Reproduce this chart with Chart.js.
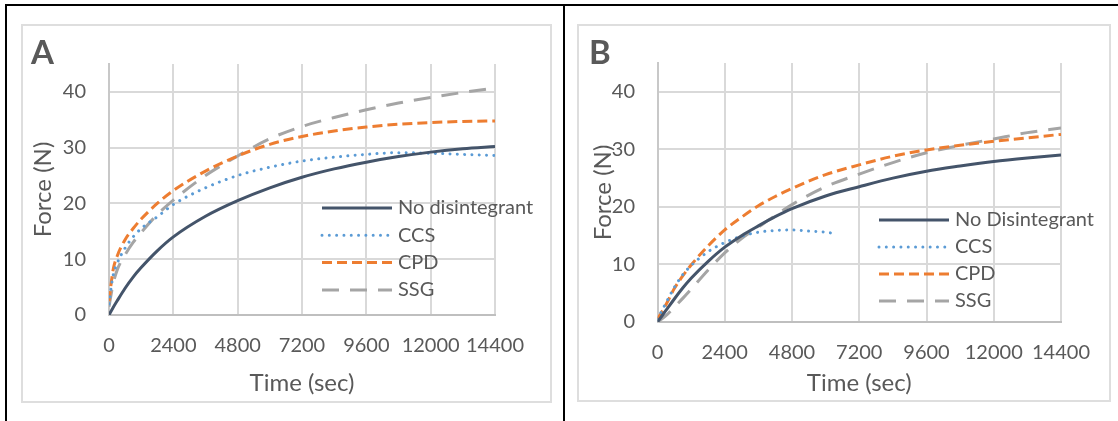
<!DOCTYPE html>
<html>
<head>
<meta charset="utf-8">
<script src="https://cdn.jsdelivr.net/npm/chart.js@4.4.1/dist/chart.umd.min.js"></script>
<style>
  html, body { margin: 0; padding: 0; background: #fff; }
  body { width: 1118px; height: 421px; position: relative; overflow: hidden; }
  .rule { position: absolute; background: #000; }
  .box { position: absolute; border: 2px solid #dedede; box-sizing: border-box; }
  canvas { position: absolute; }
</style>
</head>
<body>
<div class="rule" style="left:5px;top:4px;width:1113px;height:2px"></div>
<div class="rule" style="left:5px;top:4px;width:2px;height:417px"></div>
<div class="rule" style="left:563px;top:4px;width:2px;height:417px"></div>
<div class="box" style="left:21px;top:24px;width:531px;height:379px"></div>
<div class="box" style="left:577px;top:24px;width:534px;height:378px"></div>
<canvas id="chartA" width="528" height="376" style="left:22px;top:25px"></canvas>
<canvas id="chartB" width="530" height="375" style="left:579px;top:25px"></canvas>
<script>
/*
    DATA
*/
const SERIES_NAMES_A = ['No disintegrant', 'CCS', 'CPD', 'SSG'];
const SERIES_NAMES_B = ['No Disintegrant', 'CCS', 'CPD', 'SSG'];
const X_TICKS = [0, 2400, 4800, 7200, 9600, 12000, 14400];
const Y_TICKS = [0, 10, 20, 30, 40];

// panel A (time in sec, force in N)
const timeA = [0, 150, 300, 600, 900, 1200, 1800, 2400, 3600, 4800, 6000, 7200, 8400, 9600, 10800, 12000, 13200, 14400];
const noDisA = [0, 1.3, 2.5, 4.8, 6.8, 8.5, 11.5, 14.0, 17.7, 20.5, 22.8, 24.7, 26.2, 27.4, 28.4, 29.2, 29.8, 30.2];
const ccsA = [2.0, 7.0, 9.2, 12.0, 14.0, 15.5, 17.6, 19.8, 22.8, 25.0, 26.5, 27.6, 28.3, 28.8, 29.1, 29.0, 28.8, 28.6];
const cpdA = [2.5, 8.0, 10.5, 13.5, 15.5, 17.2, 20.0, 22.3, 25.8, 28.5, 30.6, 32.0, 33.0, 33.7, 34.2, 34.5, 34.7, 34.8];
const ssgA = [1.5, 5.5, 8.0, 10.8, 13.0, 14.8, 18.0, 20.6, 25.0, 28.5, 31.6, 33.8, 35.4, 36.8, 38.0, 39.0, 39.9, 40.7];

// panel B
const timeB = [0, 300, 600, 900, 1200, 1800, 2400, 3000, 3600, 4200, 4800, 6000, 7200, 8400, 9600, 10800, 12000, 13200, 14400];
const noDisB = [0, 2.0, 4.0, 5.9, 7.6, 10.5, 13.0, 15.0, 16.7, 18.3, 19.7, 21.9, 23.5, 25.0, 26.2, 27.1, 27.9, 28.5, 29.0];
const cpdB = [0.5, 3.0, 5.8, 8.0, 9.9, 13.2, 16.0, 18.2, 20.2, 21.8, 23.2, 25.6, 27.3, 28.8, 29.9, 30.7, 31.4, 32.0, 32.6];
const ssgB = [0, 1.1, 2.6, 4.1, 5.7, 9.0, 12.0, 14.5, 16.5, 18.5, 20.4, 23.5, 25.7, 27.7, 29.4, 30.7, 31.8, 32.9, 33.7];
const ccsTimeB = [0, 300, 600, 900, 1200, 1800, 2400, 3000, 3600, 4200, 4800, 5400, 6000, 6400];
const ccsB = [0.5, 3.3, 6.0, 8.2, 9.8, 12.2, 13.8, 14.9, 15.6, 15.9, 16.0, 15.8, 15.6, 15.3];

/*
    STYLE
*/
const TEXT = '#595959';
const FONT = 'Lato';
const STYLES = [
  { borderColor: '#44546a', borderWidth: 3, borderDash: [], borderCapStyle: 'butt' },
  { borderColor: '#5b9bd5', borderWidth: 3, borderDash: [0.01, 7.3], borderCapStyle: 'round' },
  { borderColor: '#ed7d31', borderWidth: 3, borderDash: [10, 5], borderCapStyle: 'butt' },
  { borderColor: '#a5a5a5', borderWidth: 3, borderDash: [17, 11], borderCapStyle: 'butt' }
];

Chart.defaults.font.family = FONT;
Chart.defaults.color = TEXT;

const pts = (xs, ys) => xs.map((x, i) => ({ x, y: ys[i] }));

// legend drawn inside the plot + panel letter
const insideLegend = {
  id: 'insideLegend',
  afterDatasetsDraw(chart, args, opts) {
    const ctx = chart.ctx;
    ctx.save();
    chart.data.datasets.forEach((ds, i) => {
      const y = opts.top + i * opts.row;
      ctx.beginPath();
      ctx.strokeStyle = ds.borderColor;
      ctx.lineWidth = ds.borderWidth;
      ctx.setLineDash(ds.borderDash);
      ctx.lineCap = ds.borderCapStyle;
      ctx.moveTo(opts.left, y);
      ctx.lineTo(opts.left + opts.sample, y);
      ctx.stroke();
      ctx.setLineDash([]);
      ctx.fillStyle = TEXT;
      ctx.font = `20px ${FONT}`;
      ctx.textBaseline = 'middle';
      ctx.textAlign = 'left';
      ctx.fillText(ds.label, opts.left + opts.sample + opts.gap, y);
    });
    ctx.fillStyle = TEXT;
    ctx.font = `bold 33px ${FONT}`;
    ctx.textBaseline = 'alphabetic';
    ctx.fillText(opts.letter, opts.letterX, opts.letterY);
    ctx.restore();
  }
};

const drawPanel = (id, names, series, geo) => {
  const datasets = series.map((s, i) => Object.assign({
    label: names[i],
    data: s,
    pointRadius: 0,
    fill: false,
    cubicInterpolationMode: 'monotone'
  }, STYLES[i]));

  return new Chart(document.getElementById(id), {
    type: 'line',
    data: { datasets },
    plugins: [insideLegend],
    options: {
      responsive: false,
      animation: false,
      devicePixelRatio: 1,
      layout: { padding: { top: geo.top, right: geo.right, left: 0, bottom: 0 } },
      plugins: {
        legend: { display: false },
        tooltip: { enabled: false },
        insideLegend: geo.legend
      },
      scales: {
        x: {
          type: 'linear',
          min: 0,
          max: 14400,
          afterFit: (s) => { s.height = geo.xHeight; },
          afterBuildTicks: (s) => { s.ticks = X_TICKS.map((v) => ({ value: v })); },
          grid: { color: '#d9d9d9', lineWidth: 2, drawTicks: false },
          border: { color: '#bfbfbf', width: 2 },
          ticks: {
            autoSkip: false,
            maxRotation: 0,
            padding: 19,
            font: { size: 20 },
            callback: (v) => String(v)
          },
          title: {
            display: true,
            text: 'Time (sec)',
            font: { size: 24 },
            padding: { top: 0, bottom: geo.xTitlePad }
          }
        },
        y: {
          min: 0,
          max: 45,
          afterFit: (s) => { s.width = geo.yWidth; },
          afterBuildTicks: (s) => { s.ticks = Y_TICKS.map((v) => ({ value: v })); },
          grid: { color: '#d9d9d9', lineWidth: 2, drawTicks: false },
          border: { color: '#c8c8c8', width: 2 },
          ticks: {
            padding: geo.yTickPad,
            font: { size: 20 },
            callback: (v) => String(v)
          },
          title: {
            display: true,
            text: 'Force (N)',
            font: { size: 24 },
            padding: { top: geo.yTitlePad, bottom: 0 }
          }
        }
      }
    }
  });
};

drawPanel('chartA', SERIES_NAMES_A,
  [pts(timeA, noDisA), pts(timeA, ccsA), pts(timeA, cpdA), pts(timeA, ssgA)],
  {
    top: 39, right: 55, xHeight: 86, yWidth: 87, yTickPad: 23, yTitlePad: 6.6, xTitlePad: 3.6,
    legend: { left: 300, sample: 70, gap: 6, top: 183, row: 27.3, letter: 'A', letterX: 9, letterY: 39 }
  });

drawPanel('chartB', SERIES_NAMES_B,
  [pts(timeB, noDisB), pts(ccsTimeB, ccsB), pts(timeB, cpdB), pts(timeB, ssgB)],
  {
    top: 38, right: 47, xHeight: 78, yWidth: 78.5, yTickPad: 22.5, yTitlePad: 9.6, xTitlePad: 2.6,
    legend: { left: 300, sample: 70, gap: 6, top: 195, row: 27, letter: 'B', letterX: 10, letterY: 39 }
  });
</script>
</body>
</html>
